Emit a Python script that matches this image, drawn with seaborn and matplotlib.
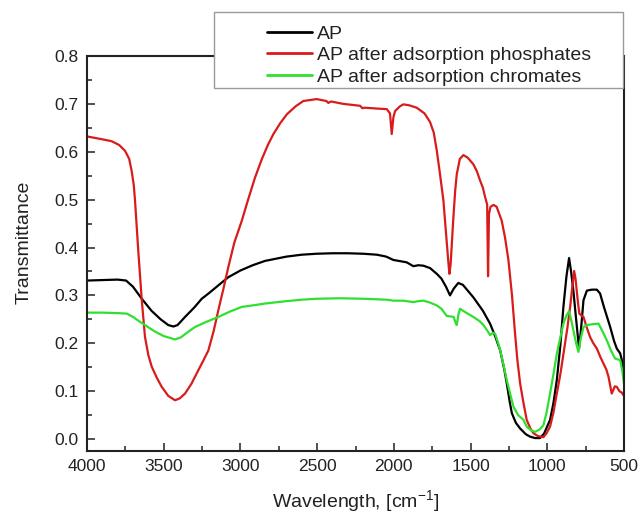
import numpy as np
import pandas as pd
import matplotlib
matplotlib.use("Agg")
import matplotlib.pyplot as plt
from matplotlib.patches import Rectangle
import seaborn as sns

# ---------------- data ----------------
ap_wn = [4000, 3900, 3800, 3745, 3700, 3643, 3580, 3520, 3470, 3437, 3410, 3361, 3300, 3252, 3200,
         3140, 3079, 3000, 2920, 2840, 2700, 2600, 2503, 2400, 2351, 2300, 2200, 2111, 2050, 2003,
         1950, 1916, 1873, 1840, 1807, 1764, 1720, 1690, 1660, 1634, 1610, 1580, 1550, 1482, 1420,
         1373, 1340, 1307, 1280, 1264, 1245, 1231, 1205, 1177, 1140, 1112, 1080, 1047, 1020, 982,
         960, 938, 915, 895, 875, 858, 845, 830, 812, 793, 780, 764, 742, 710, 677, 656, 630, 590,
         565, 547, 525, 510, 500]
ap_val = [0.331, 0.332, 0.333, 0.331, 0.318, 0.293, 0.268, 0.250, 0.238, 0.235, 0.238, 0.255, 0.275,
          0.293, 0.306, 0.322, 0.338, 0.352, 0.363, 0.372, 0.381, 0.385, 0.387, 0.388, 0.388, 0.388,
          0.387, 0.385, 0.381, 0.374, 0.371, 0.369, 0.361, 0.363, 0.362, 0.357, 0.345, 0.335, 0.318,
          0.300, 0.314, 0.326, 0.322, 0.296, 0.268, 0.241, 0.215, 0.185, 0.145, 0.116, 0.078, 0.054,
          0.034, 0.022, 0.010, 0.005, 0.002, 0.002, 0.012, 0.040, 0.075, 0.123, 0.195, 0.276, 0.340,
          0.378, 0.350, 0.310, 0.250, 0.189, 0.230, 0.290, 0.310, 0.312, 0.312, 0.304, 0.275, 0.234,
          0.205, 0.189, 0.179, 0.160, 0.140]

phos_wn = [4000, 3900, 3839, 3790, 3752, 3725, 3709, 3695, 3687, 3666, 3643, 3622, 3600, 3578, 3545,
           3513, 3470, 3426, 3395, 3361, 3320, 3274, 3240, 3209, 3175, 3144, 3110, 3079, 3040, 2991,
           2950, 2905, 2860, 2820, 2785, 2740, 2698, 2640, 2590, 2503, 2440, 2427, 2410, 2329, 2220,
           2205, 2190, 2100, 2046, 2025, 2014, 2003, 1992, 1960, 1938, 1900, 1851, 1800, 1764, 1740,
           1720, 1700, 1677, 1660, 1645, 1638, 1630, 1612, 1600, 1590, 1570, 1547, 1520, 1482, 1460,
           1438, 1420, 1405, 1392, 1386, 1380, 1370, 1350, 1330, 1297, 1275, 1253, 1230, 1210, 1195,
           1177, 1155, 1134, 1110, 1090, 1060, 1025, 1005, 982, 960, 938, 915, 895, 870, 851, 838,
           825, 816, 808, 800, 791, 778, 764, 745, 721, 700, 677, 655, 634, 615, 601, 592, 580, 570,
           560, 547, 530, 515, 500]
phos_val = [0.632, 0.626, 0.622, 0.614, 0.602, 0.585, 0.560, 0.530, 0.498, 0.394, 0.290, 0.213, 0.175,
            0.151, 0.128, 0.109, 0.090, 0.081, 0.085, 0.095, 0.115, 0.144, 0.165, 0.185, 0.225, 0.269,
            0.315, 0.359, 0.410, 0.456, 0.500, 0.546, 0.585, 0.615, 0.637, 0.660, 0.678, 0.695, 0.706,
            0.710, 0.706, 0.702, 0.705, 0.700, 0.696, 0.691, 0.692, 0.690, 0.689, 0.680, 0.637, 0.672,
            0.685, 0.695, 0.699, 0.697, 0.692, 0.680, 0.662, 0.640, 0.602, 0.555, 0.498, 0.430, 0.370,
            0.345, 0.365, 0.463, 0.520, 0.553, 0.585, 0.593, 0.588, 0.574, 0.560, 0.540, 0.525, 0.505,
            0.490, 0.340, 0.470, 0.485, 0.489, 0.485, 0.456, 0.420, 0.373, 0.300, 0.220, 0.165, 0.116,
            0.075, 0.040, 0.022, 0.012, 0.006, 0.004, 0.012, 0.026, 0.055, 0.095, 0.135, 0.178, 0.230,
            0.276, 0.315, 0.351, 0.335, 0.310, 0.285, 0.262, 0.258, 0.255, 0.235, 0.213, 0.200, 0.189,
            0.172, 0.158, 0.145, 0.130, 0.115, 0.095, 0.102, 0.110, 0.109, 0.100, 0.097, 0.090]

chrom_wn = [4000, 3900, 3800, 3741, 3700, 3660, 3622, 3560, 3500, 3426, 3390, 3340, 3296, 3220, 3144,
            3070, 2991, 2900, 2840, 2700, 2600, 2503, 2351, 2200, 2046, 2003, 1940, 1873, 1840, 1807,
            1764, 1720, 1690, 1655, 1630, 1610, 1600, 1590, 1578, 1568, 1540, 1482, 1440, 1416, 1390,
            1373, 1355, 1340, 1320, 1307, 1285, 1264, 1240, 1220, 1190, 1155, 1134, 1105, 1079, 1050,
            1025, 1005, 982, 960, 938, 915, 895, 875, 858, 845, 830, 812, 797, 782, 764, 742, 700, 666,
            640, 612, 585, 558, 525, 510, 500]
chrom_val = [0.264, 0.264, 0.263, 0.262, 0.255, 0.246, 0.238, 0.225, 0.215, 0.208, 0.212, 0.224, 0.234,
             0.245, 0.255, 0.266, 0.276, 0.280, 0.283, 0.288, 0.291, 0.293, 0.294, 0.293, 0.291, 0.289,
             0.289, 0.286, 0.288, 0.289, 0.285, 0.279, 0.272, 0.257, 0.256, 0.255, 0.245, 0.238, 0.262,
             0.272, 0.266, 0.255, 0.246, 0.238, 0.226, 0.217, 0.222, 0.220, 0.200, 0.185, 0.155, 0.123,
             0.092, 0.067, 0.050, 0.040, 0.026, 0.018, 0.015, 0.020, 0.029, 0.055, 0.095, 0.135, 0.178,
             0.212, 0.241, 0.258, 0.267, 0.250, 0.227, 0.200, 0.182, 0.210, 0.234, 0.238, 0.240, 0.241,
             0.225, 0.206, 0.185, 0.168, 0.165, 0.140, 0.115]

labels = ["AP", "AP after adsorption phosphates", "AP after adsorption chromates"]
colors = ["#000000", "#d81c1c", "#2fe02f"]

x_ticks = [4000, 3500, 3000, 2500, 2000, 1500, 1000, 500]
y_ticks = [0.0, 0.1, 0.2, 0.3, 0.4, 0.5, 0.6, 0.7, 0.8]

# ---------------- plot ----------------
sns.set_style("ticks")
plt.rcParams["font.family"] = ["Liberation Sans", "DejaVu Sans"]
plt.rcParams["mathtext.default"] = "regular"

fig = plt.figure(figsize=(6.38, 5.15), dpi=100)
ax = fig.add_axes([87 / 638, 1 - 451 / 515, (624 - 87) / 638, (451 - 56) / 515])

frames = []
for lab, w, v in zip(labels, [ap_wn, phos_wn, chrom_wn], [ap_val, phos_val, chrom_val]):
    frames.append(pd.DataFrame({"wn": w, "T": v, "series": lab}))
df = pd.concat(frames, ignore_index=True)

sns.lineplot(data=df, x="wn", y="T", hue="series", hue_order=labels,
             palette=dict(zip(labels, colors)), sort=True, estimator=None,
             linewidth=1.6, ax=ax, legend=False)

ax.set_xlim(4000, 500)
ax.set_ylim(-0.025, 0.8)
ax.set_xticks(x_ticks)
ax.set_yticks(y_ticks)
ax.set_yticklabels([f"{t:.1f}" for t in y_ticks])
ax.set_xticks([3750, 3250, 2750, 2250, 1750, 1250, 750], minor=True)
ax.set_yticks(np.arange(0.05, 0.8, 0.1), minor=True)
ax.tick_params(axis="both", which="major", direction="in", length=5.5, width=1.1,
               labelsize=12.5, color="#222222", labelcolor="#222222")
ax.tick_params(axis="both", which="minor", direction="in", length=3.5, width=1.1, color="#222222")
ax.tick_params(axis="x", which="major", pad=6)
ax.tick_params(axis="y", which="major", pad=6)
ax.tick_params(top=False, right=False, which="both")
for s in ax.spines.values():
    s.set_visible(True)
    s.set_linewidth(1.5)
    s.set_color("#222222")

ax.set_xlabel("Wavelength, [cm$^{-1}$]", fontsize=14, color="#222222")
ax.set_ylabel("Transmittance", fontsize=14, color="#222222")
ax.xaxis.set_label_coords(0.501, -0.095)
ax.yaxis.set_label_coords(-0.102, 0.528)

# legend box
rect = Rectangle((214 / 638, 1 - 88 / 515), (623 - 214) / 638, (88 - 12) / 515,
                 transform=fig.transFigure, facecolor="white", edgecolor="#9a9a9a",
                 linewidth=1.0, zorder=3)
fig.patches.append(rect)

handles = [plt.Line2D([], [], color=c, linewidth=2.0) for c in colors]
leg = fig.legend(handles, labels, loc="upper left", bbox_to_anchor=(267 / 638, 1 - 25 / 515),
                 bbox_transform=fig.transFigure, frameon=False, borderpad=0, borderaxespad=0,
                 fontsize=14, handlelength=2.3, handletextpad=0.25, labelspacing=0.2)
leg.set_zorder(5)
for t in leg.get_texts():
    t.set_color("#222222")

fig.savefig("out.png", dpi=100)
